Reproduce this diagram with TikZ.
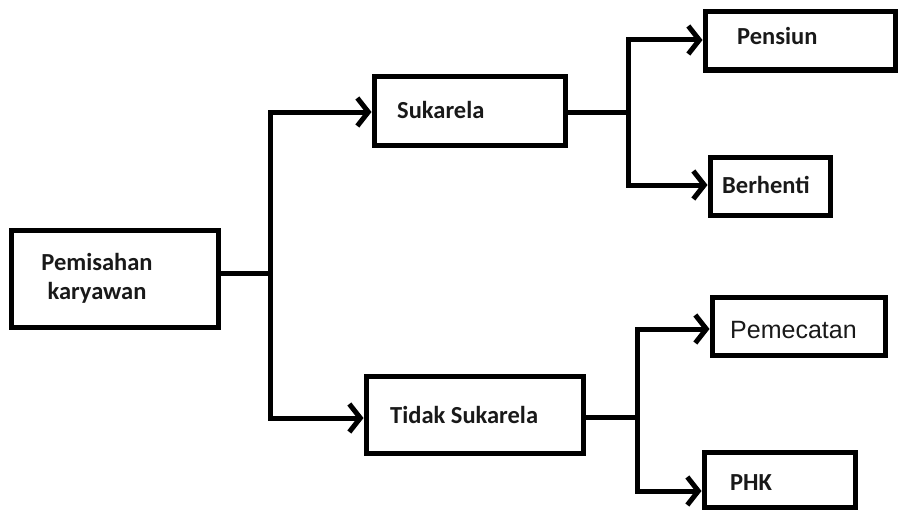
\documentclass[tikz,border=0pt]{standalone}
\usepackage{fontspec}
\setmainfont{Carlito}
\newfontfamily\arialfont{Liberation Sans}
\usetikzlibrary{arrows.meta}
\begin{document}
\begin{tikzpicture}[x=1pt,y=-1pt,
  box/.style={draw, line width=5pt, inner sep=0pt},
  lbl/.style={font=\bfseries\fontsize{24.5}{29}\selectfont, inner sep=0pt, text=black!90},
  plainlbl/.style={font=\arialfont\fontsize{25}{30}\selectfont, inner sep=0pt, text=black!90},
  conn/.style={line width=5pt},
  arr/.style={conn, -{Straight Barb[length=11pt,width=28pt]}}]
\useasboundingbox (0,0) rectangle (899,511);

% boxes
\node[box, minimum width=206.5pt, minimum height=97pt] (b1) at (115,278.5) {};
\node[box, minimum width=191pt, minimum height=69pt] (b2) at (469.5,110.5) {};
\node[box, minimum width=217pt, minimum height=77pt] (b3) at (474.5,414.5) {};
\node[box, minimum width=190pt, minimum height=58pt] (b4) at (800,41) {};
\node[box, minimum width=120pt, minimum height=58pt] (b5) at (770,186) {};
\node[box, minimum width=173pt, minimum height=58pt] (b6) at (798.5,326) {};
\node[box, minimum width=151pt, minimum height=55pt] (b7) at (779.5,479.5) {};

% texts
\node[lbl, anchor=base] (t1a) at (97,270) {Pemisahan};
\node[lbl, anchor=base] (t1b) at (97,299) {karyawan};
\node[lbl, anchor=base west] (t2) at (397,118) {Sukarela};
\node[lbl, anchor=base west] (t3) at (390,423) {Tidak Sukarela};
\node[lbl, anchor=base west] (t4) at (737,45) {Pensiun};
\node[lbl, anchor=base west] (t5) at (722,193) {Berhenti};
\node[plainlbl, anchor=base west] (t6) at (730,338) {Pemecatan};
\node[lbl, anchor=base west] (t7) at (730,490) {PHK};

% junctions
\coordinate (j1) at (270,273);
\coordinate (j1a) at (270,112);
\coordinate (j1b) at (270,418);
\coordinate (j2) at (628,112);
\coordinate (j2a) at (628,40);
\coordinate (j2b) at (628,185);
\coordinate (j3) at (637,417);
\coordinate (j3a) at (637,329);
\coordinate (j3b) at (637,491);

% connectors
\draw[conn] (b1.east |- j1) -- (j1);
\draw[arr] (j1) -- (j1a) -- (j1a -| b2.west);
\draw[arr] (j1) -- (j1b) -- (j1b -| b3.west);

\draw[conn] (b2.east |- j2) -- (j2);
\draw[arr] (j2) -- (j2a) -- (j2a -| b4.west);
\draw[arr] (j2) -- (j2b) -- (j2b -| b5.west);

\draw[conn] (b3.east |- j3) -- (j3);
\draw[arr] (j3) -- (j3a) -- (j3a -| b6.west);
\draw[arr] (j3) -- (j3b) -- (j3b -| b7.west);
\end{tikzpicture}
\end{document}
